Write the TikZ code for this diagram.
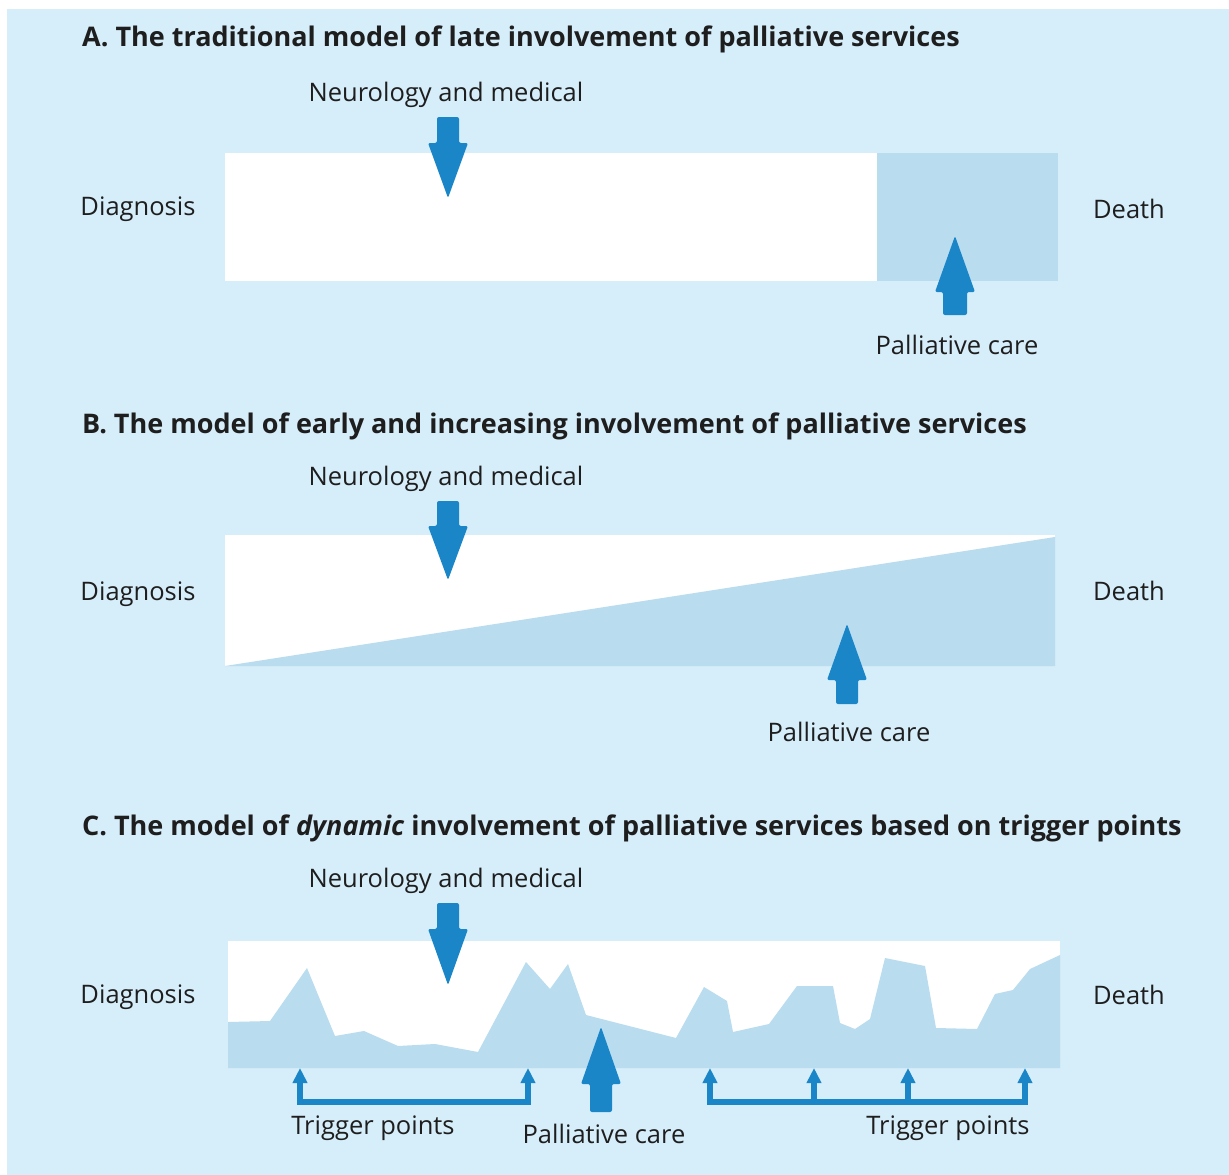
\documentclass[tikz,border=0pt]{standalone}
\usepackage{fontspec}
\setmainfont{Open Sans}
\usetikzlibrary{arrows.meta}
\definecolor{bgblue}{HTML}{D6EDFA}
\definecolor{fillblue}{HTML}{B9DCEF}
\definecolor{arrblue}{HTML}{1A86C8}
\definecolor{txt}{HTML}{1E1E1E}
\tikzset{
  lbl/.style={inner sep=0pt, text=txt, yshift=-3pt, font=\fontsize{25.5}{30}\selectfont},
  ttl/.style={inner sep=0pt, text=txt, anchor=west, yshift=-3pt, font=\fontsize{27}{32}\selectfont\bfseries},
  bigarrow/.style={fill=arrblue, rounded corners=2pt},
  trig/.style={draw=arrblue, line width=6pt, line join=miter, {Triangle[width=14pt,length=15pt]}-{Triangle[width=14pt,length=15pt]}},
  trigone/.style={draw=arrblue, line width=6pt, -{Triangle[width=14pt,length=15pt]}}
}
\newcommand\downarr[5]{% x, top, base, tip, half-width-shaft
  \fill[bigarrow] (#1-#5,#2) -- (#1+#5,#2) -- (#1+#5,#3) -- (#1+20,#3) -- (#1,#4) -- (#1-20,#3) -- (#1-#5,#3) -- cycle;}
\newcommand\uparr[5]{% x, bottom, base, tip, half-width-shaft
  \fill[bigarrow] (#1-#5,#2) -- (#1+#5,#2) -- (#1+#5,#3) -- (#1+20,#3) -- (#1,#4) -- (#1-20,#3) -- (#1-#5,#3) -- cycle;}
\begin{document}
\begin{tikzpicture}[x=1pt,y=-1pt]
\useasboundingbox (0,0) rectangle (1229,1175);
\fill[white] (0,0) rectangle (1229,1175);
\fill[bgblue] (7,9) rectangle (1229,1175);

% ---------- Panel A ----------
\node[ttl] (tA) at (82,36) {A. The traditional model of late involvement of palliative services};
\node[lbl] (nA) at (446,92) {Neurology and medical};
\fill[white] (225,153) rectangle (877,281);
\fill[fillblue] (877,153) rectangle (1058,281);
\downarr{448}{117}{143}{198}{11}
\uparr{955}{315}{292}{236}{12}
\node[lbl] (dA) at (138,206) {Diagnosis};
\node[lbl] (eA) at (1129,206) {Death};
\node[lbl] (pA) at (957,342) {Palliative care};

% ---------- Panel B ----------
\node[ttl] (tB) at (82,423) {B. The model of early and increasing involvement of palliative services};
\node[lbl] (nB) at (446,476) {Neurology and medical};
\fill[white] (225,535) rectangle (1055,666);
\fill[fillblue] (225,666) -- (1055,537) -- (1055,666) -- cycle;
\downarr{448}{501}{526}{580}{11}
\uparr{847}{704}{680}{624}{11}
\node[lbl] (dB) at (138,591) {Diagnosis};
\node[lbl] (eB) at (1129,588) {Death};
\node[lbl] (pB) at (849,729) {Palliative care};

% ---------- Panel C ----------
\node[ttl] (tC) at (82,825) {C. The model of \textit{dynamic} involvement of palliative services based on trigger points};
\node[lbl] (nC) at (446,878) {Neurology and medical};
\fill[white] (228,941) rectangle (1060,1068);
\fill[fillblue] (228,1022) -- (270,1021) -- (307,968) -- (335,1036) -- (364,1031) -- (398,1046) -- (435,1044) -- (478,1052) -- (526,962) -- (550,989) -- (568,964) -- (586,1015) -- (676,1038) -- (704,987) -- (727,1001) -- (733,1032) -- (769,1024) -- (797,986) -- (833,986) -- (840,1023) -- (855,1029) -- (870,1019) -- (885,958) -- (925,966) -- (936,1028) -- (977,1029) -- (995,994) -- (1013,990) -- (1030,969) -- (1060,955) -- (1060,1068) -- (228,1068) -- cycle;
\downarr{448}{903}{929}{985}{11}
\uparr{601}{1112}{1084}{1027}{11}
\node[lbl] (dC) at (138,994) {Diagnosis};
\node[lbl] (eC) at (1129,992) {Death};
\node[lbl] (pC) at (604,1131) {Palliative care};

% trigger points
\coordinate (l1) at (300,1068);
\coordinate (l2) at (528,1068);
\coordinate (r1) at (710,1068);
\coordinate (r2) at (814,1068);
\coordinate (r3) at (908,1068);
\coordinate (r4) at (1025,1068);
\draw[trig] (l1) -- ([yshift=-34pt]l1) -| (l2);
\draw[trig] (r1) -- ([yshift=-34pt]r1) -| (r4);
\draw[trigone] ([yshift=-34pt]r2) -- (r2);
\draw[trigone] ([yshift=-34pt]r3) -- (r3);
\node[lbl] (tpL) at (373,1125) {Trigger points};
\node[lbl] (tpR) at (948,1125) {Trigger points};
\end{tikzpicture}
\end{document}
